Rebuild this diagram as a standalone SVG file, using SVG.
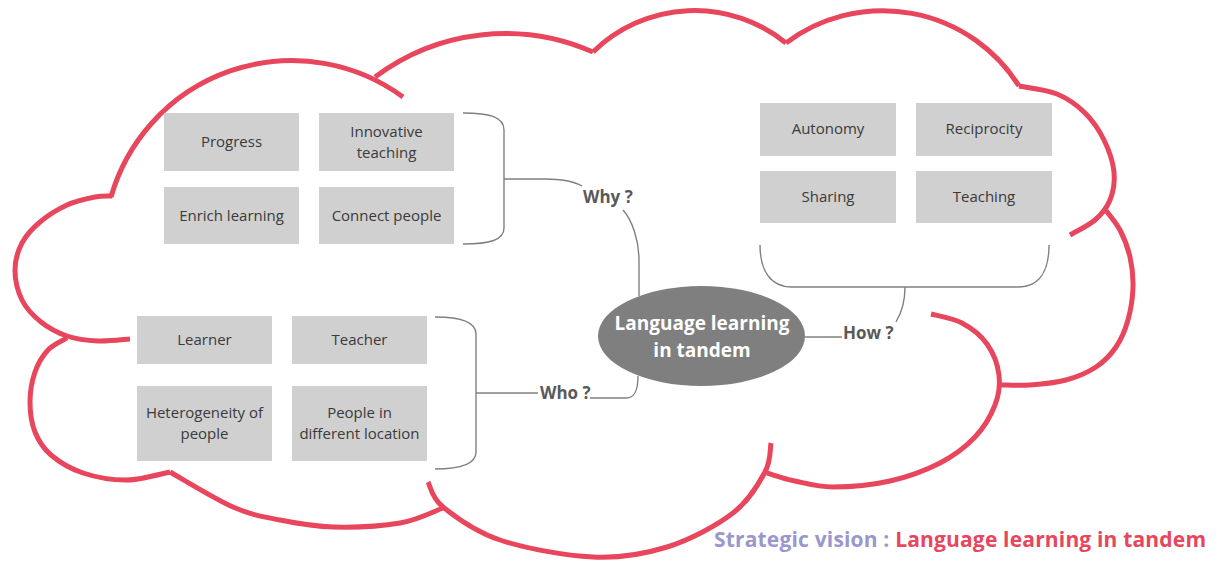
<svg xmlns="http://www.w3.org/2000/svg" width="1216" height="561" viewBox="0 0 1216 561">
<style>
.cloud{fill:none;stroke:#E8465D;stroke-width:5;stroke-linecap:butt}
.box{fill:#D0D0D0}
.bt{font-family:"Open Sans","Liberation Sans",sans-serif;font-size:15px;fill:#3A3A3A;text-anchor:middle}
.conn{fill:none;stroke:#808080;stroke-width:1.4}
.lbl{font-family:"Open Sans","Liberation Sans",sans-serif;font-size:17px;font-weight:bold;fill:#595959}
.ct{font-family:"Open Sans","Liberation Sans",sans-serif;font-size:19px;font-weight:bold;fill:#FFFFFF;text-anchor:middle}
.title{font-family:"Open Sans","Liberation Sans",sans-serif;font-size:21px;font-weight:bold}
</style>
<rect width="1216" height="561" fill="#FFFFFF"/>
<g id="cloud">
<path class="cloud" d="M111,197 A188,188 0 0 1 403,97"/>
<path class="cloud" d="M375,77 A217,217 0 0 1 593,52"/>
<path class="cloud" d="M593,52 A145,145 0 0 1 786,43"/>
<path class="cloud" d="M786,43 A161,161 0 0 1 1019,86"/>
<path class="cloud" d="M1019,86 C1025.3,87.3 1046,89.5 1057,94 C1068,98.5 1077.2,105.3 1085,113 C1092.8,120.7 1099.2,130.2 1104,140 C1108.8,149.8 1113,162 1114,172 C1115,182 1113.2,192 1110,200 C1106.8,208 1101.7,214.2 1095,220 C1088.3,225.8 1074.2,232.5 1070,235"/>
<path class="cloud" d="M1104,208 C1106.7,211.7 1115.7,221.8 1120,230 C1124.3,238.2 1127.8,247.5 1130,257 C1132.2,266.5 1133.3,276.5 1133,287 C1132.7,297.5 1130.8,310 1128,320 C1125.2,330 1121.3,339.2 1116,347 C1110.7,354.8 1104.3,361.5 1096,367 C1087.7,372.5 1077,377 1066,380 C1055,383 1041,384.2 1030,385 C1019,385.8 1005,385 1000,385"/>
<path class="cloud" d="M931,314 C936.2,315.5 952.7,318 962,323 C971.3,328 980.8,335.3 987,344 C993.2,352.7 997.7,364.8 999,375 C1000.3,385.2 999,394.7 995,405 C991,415.3 984.2,427.3 975,437 C965.8,446.7 954.2,455.7 940,463 C925.8,470.3 907.8,477 890,481 C872.2,485 848.8,487 833,487 C817.2,487 806,483.3 795,481 C784,478.7 771.7,474.3 767,473"/>
<path class="cloud" d="M771,443 C770,447.8 771.3,460.3 765,472 C758.7,483.7 749.3,500.5 733,513 C716.7,525.5 690.3,539.7 667,547 C643.7,554.3 620.8,558.2 593,557 C565.2,555.8 525,548.3 500,540 C475,531.7 455,516.7 443,507 C431,497.3 430.5,486.2 428,482"/>
<path class="cloud" d="M443,508 C435.8,510.5 418.3,519.8 400,523 C381.7,526.2 353,527.5 333,527 C313,526.5 296.7,523.3 280,520 C263.3,516.7 251.3,515 233,507 C214.7,499 180.5,477.8 170,472"/>
<path class="cloud" d="M170,472 C162.8,473.3 141.5,479.8 127,480 C112.5,480.2 95.7,477.2 83,473 C70.3,468.8 59,461.8 51,455 C43,448.2 38.5,440.8 35,432 C31.5,423.2 30,412 30,402 C30,392 32,380.7 35,372 C38,363.3 42.7,355.7 48,350 C53.3,344.3 63.8,340 67,338"/>
<path class="cloud" d="M130,339 C124.7,339.3 108.5,341.5 98,341 C87.5,340.5 76.5,339.2 67,336 C57.5,332.8 48.5,328 41,322 C33.5,316 26.3,308.7 22,300 C17.7,291.3 15,279.5 15,270 C15,260.5 17.8,251 22,243 C26.2,235 32.5,228.3 40,222 C47.5,215.7 57.8,209.2 67,205 C76.2,200.8 87.5,198.5 95,197 C102.5,195.5 109.2,196.2 112,196"/>
</g>
<g id="connectors">
<path class="conn" d="M463,113 C490,113 504,117 504,130 L504,228 C504,240 490,244 463,244"/>
<path class="conn" d="M504,179 L545,179 C565,179 575,182 582,186"/>
<path class="conn" d="M623,210 C632,220 639,240 639,260 L639,296"/>
<path class="conn" d="M435,317 C462,317 476,322 476,334 L476,452 C476,464 462,469 435,469"/>
<path class="conn" d="M476,393 L538,393"/>
<path class="conn" d="M590,398 L626,398 C634,398 638,392 638,376"/>
<path class="conn" d="M760,245 C760,270 770,287 792,287 L1018,287 C1040,287 1049,270 1049,245"/>
<path class="conn" d="M805,337 L842,337"/>
<path class="conn" d="M896,322 C902,312 905,300 905,287"/>
</g>
<g id="center">
<ellipse cx="701.5" cy="336" rx="103.5" ry="50" fill="#7F7F7F"/>
<text class="ct" x="702" y="330">Language learning</text>
<text class="ct" x="702" y="357">in tandem</text>
</g>
<g id="label-why"><text class="lbl" x="583" y="203">Why ?</text></g>
<g id="label-who"><text class="lbl" x="540" y="399">Who ?</text></g>
<g id="label-how"><text class="lbl" x="843" y="339">How ?</text></g>
<g id="node-progress"><rect class="box" x="164" y="113" width="135" height="58"/><text class="bt" x="231.5" y="147">Progress</text></g>
<g id="node-innovative"><rect class="box" x="319" y="113" width="135" height="58"/><text class="bt" x="386.5" y="137">Innovative</text><text class="bt" x="386.5" y="158">teaching</text></g>
<g id="node-enrich"><rect class="box" x="164" y="187" width="135" height="57"/><text class="bt" x="231.5" y="221">Enrich learning</text></g>
<g id="node-connect"><rect class="box" x="319" y="187" width="135" height="57"/><text class="bt" x="386.5" y="221">Connect people</text></g>
<g id="node-autonomy"><rect class="box" x="760" y="103" width="136" height="53"/><text class="bt" x="828" y="134">Autonomy</text></g>
<g id="node-reciprocity"><rect class="box" x="916" y="103" width="136" height="53"/><text class="bt" x="984" y="134">Reciprocity</text></g>
<g id="node-sharing"><rect class="box" x="760" y="171" width="136" height="52"/><text class="bt" x="828" y="202">Sharing</text></g>
<g id="node-teaching"><rect class="box" x="916" y="171" width="136" height="52"/><text class="bt" x="984" y="202">Teaching</text></g>
<g id="node-learner"><rect class="box" x="137" y="316" width="135" height="48"/><text class="bt" x="204.5" y="345">Learner</text></g>
<g id="node-teacher"><rect class="box" x="292" y="316" width="135" height="48"/><text class="bt" x="359.5" y="345">Teacher</text></g>
<g id="node-heterogeneity"><rect class="box" x="137" y="386" width="135" height="75"/><text class="bt" x="204.5" y="418">Heterogeneity of</text><text class="bt" x="204.5" y="439">people</text></g>
<g id="node-people"><rect class="box" x="292" y="386" width="135" height="75"/><text class="bt" x="359.5" y="418">People in</text><text class="bt" x="359.5" y="439">different location</text></g>
<g id="title"><text class="title" x="714" y="547" textLength="492" lengthAdjust="spacing"><tspan fill="#9A97CD">Strategic vision : </tspan><tspan fill="#E8465D">Language learning in tandem</tspan></text></g>
</svg>
